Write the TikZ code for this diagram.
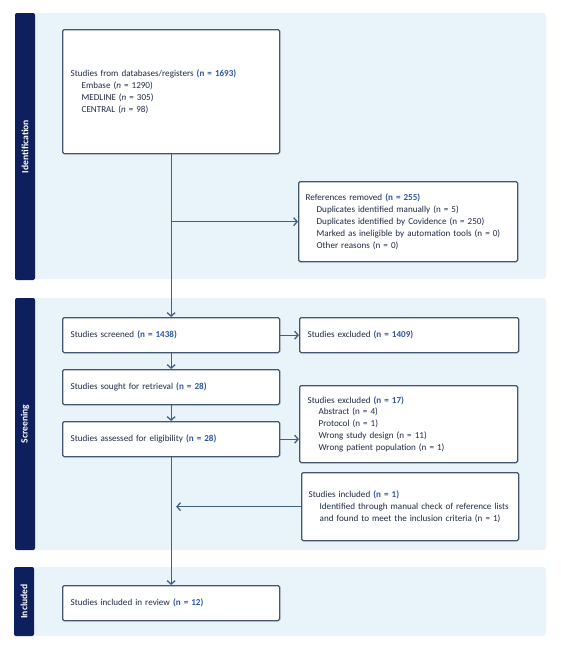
\documentclass[tikz,border=0pt]{standalone}
\usepackage{fontspec}
\setmainfont{Carlito}[WordSpace=0.85]
\usetikzlibrary{arrows.meta,positioning}

\definecolor{panelbg}{HTML}{E8F3FA}
\definecolor{barnavy}{HTML}{0D1F5C}
\definecolor{boxline}{HTML}{44576F}
\definecolor{flowline}{HTML}{44607F}
\definecolor{textc}{HTML}{1F2A44}
\definecolor{nblue}{HTML}{2E55A3}

\newcommand{\nval}[1]{\textcolor{nblue}{\textbf{#1}}}
\newcommand{\ind}{\hspace*{11pt}}

\tikzset{
  panel/.style={fill=panelbg, rounded corners=3pt},
  sidebar/.style={fill=barnavy, rounded corners=2pt, rotate=90, text=white,
    font=\fontsize{9.6}{10}\selectfont\bfseries, inner sep=0pt},
  box/.style={draw=boxline, line width=1.3pt, fill=white, rounded corners=1.5pt,
    inner xsep=8pt, inner ysep=3pt, align=left, anchor=north west, text=textc,
    font=\fontsize{9.1}{11.8}\selectfont},
  flow/.style={draw=flowline, line width=1.3pt, -{Straight Barb[length=3.5pt,width=8pt]}},
}

\begin{document}
\begin{tikzpicture}[x=1pt,y=-1pt]
		\useasboundingbox (0,0) rectangle (561,646);

		% stage panels
		\fill[panel] (30,13) rectangle (546,279);
		\fill[panel] (30,298) rectangle (546,550);
		\fill[panel] (30,567) rectangle (546,636);
		\node[sidebar, minimum width=267pt, minimum height=20pt] (idbar) at (25,146.5) {Identification};
		\node[sidebar, minimum width=252pt, minimum height=20pt] (scbar) at (25,424) {Screening};
		\node[sidebar, minimum width=69pt, minimum height=20pt] (inbar) at (24,601.5) {Included};

		% boxes
		\node[box, text width=201pt, minimum height=124pt] (db) at (62,29)
			{Studies from databases/registers \nval{(n = 1693)}\\
			\ind Embase (\textit{n} = 1290)\\
			\ind MEDLINE (\textit{n} = 305)\\
			\ind CENTRAL (\textit{n} = 98)};
		\node[box, inner xsep=7pt, text width=205pt, minimum height=80pt] (removed) at (298,181)
			{References removed \nval{(n = 255)}\\
			\ind Duplicates identified manually (n = 5)\\
			\ind Duplicates identified by Covidence (n = 250)\\
			\ind Marked as ineligible by automation tools (n = 0)\\
			\ind Other reasons (n = 0)};
		\node[box, text width=201pt, minimum height=35pt] (screened) at (62,317)
			{Studies screened \nval{(n = 1438)}};
		\node[box, text width=203pt, minimum height=35pt] (excl1) at (299,317)
			{Studies excluded \nval{(n = 1409)}};
		\node[box, text width=201pt, minimum height=35pt] (sought) at (62,369)
			{Studies sought for retrieval \nval{(n = 28)}};
		\node[box, text width=201pt, minimum height=35pt] (assessed) at (62,421)
			{Studies assessed for eligibility \nval{(n = 28)}};
		\node[box, text width=202pt, minimum height=77pt] (excl2) at (299,385)
			{Studies excluded \nval{(n = 17)}\\
			\ind Abstract (n = 4)\\
			\ind Protocol (n = 1)\\
			\ind Wrong study design (n = 11)\\
			\ind Wrong patient population (n = 1)};
		\node[box, inner xsep=7pt, text width=203pt, minimum height=68pt] (manual) at (301,472)
			{Studies included \nval{(n = 1)}\\
			\ind Identified through manual check of reference lists\\
			\ind and found to meet the inclusion criteria (n = 1)\\[10pt]};
		\node[box, text width=201pt, minimum height=35pt] (review) at (62,585)
			{Studies included in review \nval{(n = 12)}};

		% connectors
		\coordinate (split) at (db.south |- removed.west);
		\coordinate (merge) at ([xshift=5pt]assessed.south |- manual.west);
		\draw[flow] (db.south) -- (screened.north);
		\draw[flow] (split) -- (removed.west);
		\draw[flow] (screened.east) -- (excl1.west);
		\draw[flow] (screened.south) -- (sought.north);
		\draw[flow] (sought.south) -- (assessed.north);
		\draw[flow] (assessed.east) -- (excl2.west |- assessed.east);
		\draw[flow] (manual.west) -- (merge);
		\draw[flow] (assessed.south) -- (review.north);
\end{tikzpicture}
\end{document}
